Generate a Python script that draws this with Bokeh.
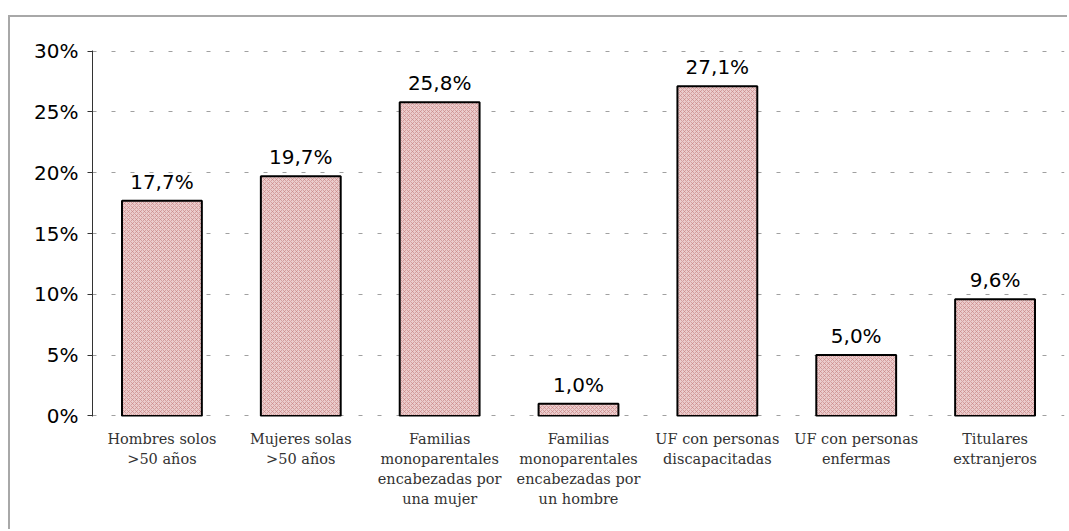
from bokeh.plotting import figure
from bokeh.models import FixedTicker, Range1d, ColumnDataSource, LabelSet
from bokeh.core.properties import value
from bokeh.embed import file_html
from bokeh.resources import INLINE

categories = [
    "Hombres solos\n>50 años",
    "Mujeres solas\n>50 años",
    "Familias\nmonoparentales\nencabezadas por\nuna mujer",
    "Familias\nmonoparentales\nencabezadas por\nun hombre",
    "UF con personas\ndiscapacitadas",
    "UF con personas\nenfermas",
    "Titulares\nextranjeros",
]
values = [17.7, 19.7, 25.8, 1.0, 27.1, 5.0, 9.6]
y_ticks = [0, 5, 10, 15, 20, 25, 30]

xs = list(range(len(categories)))
labels = [("%.1f" % v).replace(".", ",") + "%" for v in values]
src = ColumnDataSource(dict(x=xs, top=values, label=labels))

p = figure(width=1059, height=514, output_backend="svg", toolbar_location=None,
           x_range=Range1d(-0.5, len(categories) - 0.5), y_range=Range1d(-0.05, 30.05),
           min_border_left=82, min_border_right=5, min_border_top=33, min_border_bottom=115)
p.styles = {"margin-left": "8px", "margin-top": "15px",
            "border-top": "2px solid #a8a8a8", "border-left": "2px solid #a8a8a8"}
p.outline_line_color = None

p.vbar(x="x", top="top", width=0.575, bottom=0, source=src,
       fill_color="#ebcccc", line_color="black", line_width=2,
       hatch_pattern="x", hatch_color="#c47f7f", hatch_scale=4, hatch_weight=0.6)

p.add_layout(LabelSet(x="x", y="top", text="label", source=src, text_align="center",
                      text_baseline="alphabetic", y_offset=12, text_font=value("DejaVu Sans"),
                      text_font_size=value("20px"), text_color="black"))

p.xgrid.visible = False
p.ygrid.ticker = FixedTicker(ticks=y_ticks)
p.ygrid.grid_line_color = "#a0a0a0"
p.ygrid.grid_line_dash = "4 15"
p.ygrid.grid_line_width = 1

p.yaxis.ticker = FixedTicker(ticks=y_ticks)
p.yaxis.major_label_overrides = {t: "%d%%" % t for t in y_ticks}
p.yaxis.major_label_text_font = "DejaVu Sans"
p.yaxis.major_label_text_font_size = "20px"
p.yaxis.major_label_text_color = "black"
p.yaxis.axis_line_color = "#333333"
p.yaxis.major_tick_line_color = "#333333"
p.yaxis.major_tick_out = 5
p.yaxis.major_tick_in = 0
p.yaxis.minor_tick_line_color = None
p.yaxis.major_label_standoff = 9

p.xaxis.ticker = FixedTicker(ticks=xs)
p.xaxis.major_label_overrides = {i: c for i, c in enumerate(categories)}
p.xaxis.axis_line_color = None
p.xaxis.major_tick_line_color = None
p.xaxis.minor_tick_line_color = None
p.xaxis.major_label_text_font = "DejaVu Serif"
p.xaxis.major_label_text_font_size = "14.5px"
p.xaxis.major_label_text_line_height = 1.27
p.xaxis.major_label_text_color = "#333333"
p.xaxis.major_label_standoff = 8

open("out.html", "w").write(file_html(p, INLINE))
